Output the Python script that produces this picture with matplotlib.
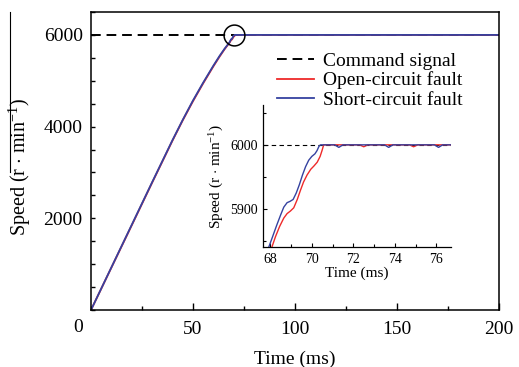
import matplotlib
matplotlib.use("Agg")
import matplotlib.pyplot as plt
from matplotlib.lines import Line2D
from matplotlib.ticker import MultipleLocator

plt.rcParams["font.family"] = ["Liberation Serif", "DejaVu Serif"]
plt.rcParams["mathtext.fontset"] = "custom"
plt.rcParams["mathtext.rm"] = "Liberation Serif"
plt.rcParams["mathtext.it"] = "Liberation Serif:italic"

# Speed reference and measured responses (time in ms, speed in r/min)
command_time = [0, 200]
command_speed = [6000, 6000]

short_time = [0, 10, 20, 30, 40, 45, 50, 55, 60, 63, 65.5, 67.93, 68.1, 68.3,
              68.5, 68.65, 68.81, 68.95, 69.1, 69.25, 69.4, 69.55, 69.7, 69.85,
              70.0, 70.15, 70.25, 70.35, 70.42, 71.1, 71.3, 71.5,
              73.5, 73.7, 73.9, 75.9, 76.1, 76.3, 200]
short_speed = [0, 930, 1860, 2790, 3710, 4150, 4570, 4960, 5330, 5540, 5700,
               5841, 5856, 5874, 5891, 5903, 5910, 5912, 5915, 5925, 5938,
               5953, 5966, 5976, 5982, 5986, 5991, 5998, 6000,
               6000, 5996, 6000, 6000, 5996, 6000, 6000, 5996, 6000, 6000]

open_time = [0, 10, 20, 30, 40, 45, 50, 55, 60, 63, 65.5, 68.08, 68.25, 68.45,
             68.65, 68.81, 68.97, 69.13, 69.3, 69.45, 69.6, 69.77, 69.95, 70.1,
             70.26, 70.4, 70.5, 70.57, 72.3, 72.5, 72.7, 74.7, 74.9, 75.1, 200]
open_speed = [0, 925, 1850, 2780, 3700, 4140, 4555, 4945, 5315, 5525, 5690,
              5841, 5857, 5873, 5886, 5893, 5897, 5902, 5915, 5929, 5942,
              5953, 5962, 5967, 5973, 5982, 5992, 6000,
              6000, 5997, 6000, 6000, 5997, 6000, 6000]

series_labels = ["Command signal", "Open-circuit fault", "Short-circuit fault"]
highlight_time, highlight_speed = 69.9, 6000

blue = "#3542a0"
red = "#ee2a2a"

fig = plt.figure(figsize=(5.19, 3.67), dpi=100)
W, H = 519, 367


def box(left, top, right, bottom):
    return [left / W, 1 - bottom / H, (right - left) / W, (bottom - top) / H]


ax = fig.add_axes(box(91, 12, 499, 310))
ax.plot(command_time, command_speed, color="black", lw=1.4, ls=(0, (5, 3)),
        label=series_labels[0])
ax.plot(open_time, open_speed, color=red, lw=1.3, label=series_labels[1])
ax.plot(short_time, short_speed, color=blue, lw=1.3, label=series_labels[2])
ax.plot([highlight_time], [highlight_speed], marker="o", ms=15, mfc="none",
        mec="black", mew=1.1)

ax.set_xlim(0, 200)
ax.set_ylim(0, 6500)
ax.xaxis.set_major_locator(MultipleLocator(50))
ax.xaxis.set_minor_locator(MultipleLocator(25))
ax.yaxis.set_major_locator(MultipleLocator(2000))
ax.yaxis.set_minor_locator(MultipleLocator(500))
ax.tick_params(which="both", direction="in", top=False, right=False,
               labelsize=14, width=1.0)
ax.tick_params(axis="x", which="major", length=5, pad=8)
ax.tick_params(axis="x", which="minor", length=3)
ax.tick_params(axis="y", which="both", length=3, pad=6)
ax.set_xticks([50, 100, 150, 200])
ax.set_yticks([2000, 4000, 6000])
for s in ax.spines.values():
    s.set_linewidth(1.1)
ax.set_xlabel("Time (ms)", fontsize=14, labelpad=9)
ax.set_ylabel(r"Speed (r $\cdot$ min$^{-1}$)", fontsize=14.5)
ax.yaxis.set_label_coords(-0.143, 0.48)
fig.text(78 / W, 1 - 327 / H, "0", fontsize=14, ha="center", va="center")

leg = ax.legend(loc="upper left", bbox_to_anchor=(277 / W, 1 - 52 / H),
                bbox_transform=fig.transFigure, frameon=False, fontsize=14,
                handlelength=1.9, handletextpad=0.45, labelspacing=0.1,
                borderpad=0, borderaxespad=0)

# zoomed view of the settling region
ins = fig.add_axes(box(263, 105, 451, 247))
ins.plot(command_time, command_speed, color="black", lw=0.8, ls=(0, (4, 3)))
ins.plot(open_time, open_speed, color=red, lw=1.0)
ins.plot(short_time, short_speed, color=blue, lw=1.0)
ins.set_xlim(67.65, 76.7)
ins.set_ylim(5841, 6062)
ins.spines["top"].set_visible(False)
ins.spines["right"].set_visible(False)
for s in ("left", "bottom"):
    ins.spines[s].set_linewidth(0.9)
ins.xaxis.set_major_locator(MultipleLocator(2))
ins.xaxis.set_minor_locator(MultipleLocator(1))
ins.yaxis.set_major_locator(MultipleLocator(100))
ins.yaxis.set_minor_locator(MultipleLocator(50))
ins.tick_params(which="both", direction="in", labelsize=10, width=0.8)
ins.tick_params(which="major", length=3, pad=4)
ins.tick_params(which="minor", length=2)
ins.set_xlabel("Time (ms)", fontsize=11, labelpad=1)
ins.set_ylabel(r"Speed (r $\cdot$ min$^{-1}$)", fontsize=11, labelpad=3)

# thin rule along the left edge of the figure
fig.add_artist(Line2D([10 / W, 10 / W], [1 - 12 / H, 1 - 172 / H],
                      color="black", lw=0.8))

fig.savefig("out.png", dpi=100)
